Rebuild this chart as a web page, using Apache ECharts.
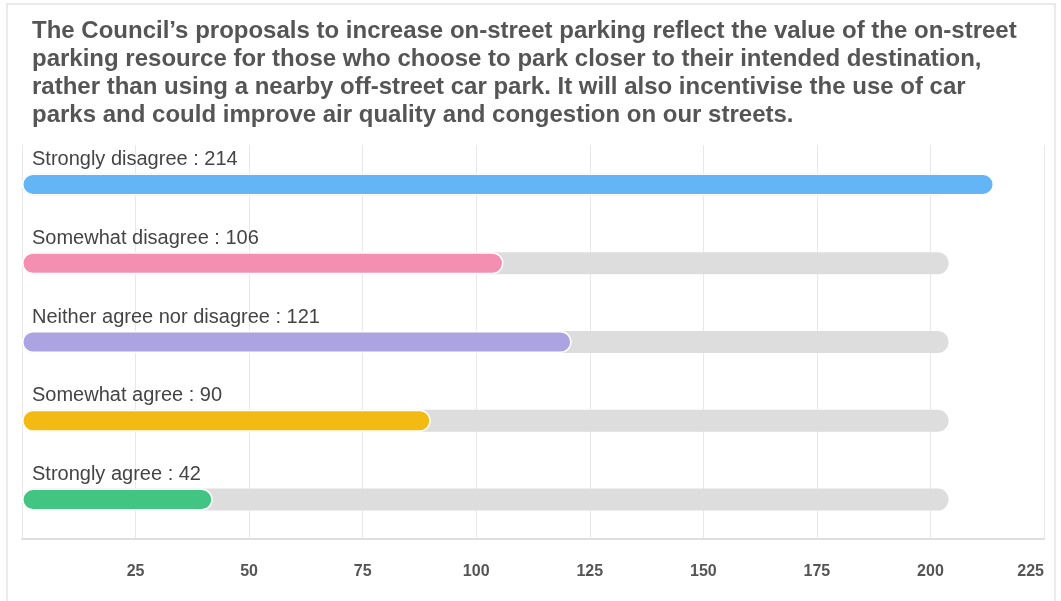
<!DOCTYPE html>
<html>
<head>
<meta charset="utf-8">
<script src="https://cdn.jsdelivr.net/npm/echarts@6/dist/echarts.min.js"></script>
<style>
html,body{margin:0;padding:0;background:#fff;}
#chart1{width:1061px;height:601px;}
</style>
</head>
<body>
<div id="chart1"></div>
<script>
var titleText = "The Council\u2019s proposals to increase on-street parking reflect the value of the on-street\nparking resource for those who choose to park closer to their intended destination,\nrather than using a nearby off-street car park. It will also incentivise the use of car\nparks and could improve air quality and congestion on our streets.";
var categories = ['Strongly disagree','Somewhat disagree','Neither agree nor disagree','Somewhat agree','Strongly agree'];
var values = [214,106,121,90,42];
var trackValues = [204,204,204,204,204];
var barColors = ['#64b5f6','#f48fb1','#aca3e3','#f4ba14','#42c583'];
var tickLabels = [0,25,50,75,100,125,150,175,200,225];

function chart1(){
	var myChart = echarts.init(document.getElementById('chart1'));
	var option = {
		animation: false,
		title: {
			text: titleText,
			left: 27,
			top: 12,
			textStyle: {
				fontFamily: 'Liberation Sans, Arial, sans-serif',
				fontSize: 24,
				fontWeight: 'bold',
				color: '#555',
				lineHeight: 28
			}
		},
		graphic: [{
			type: 'rect',
			shape: {x: 7, y: 4, width: 1048, height: 620},
			style: {fill: 'none', stroke: '#e4e4e4', lineWidth: 1.5},
			silent: true
		}],
		grid: {
			left: 22,
			right: 17,
			top: 145,
			bottom: 62
		},
		xAxis: {
			type: 'value',
			min: tickLabels[0],
			max: tickLabels[tickLabels.length-1],
			interval: 25,
			axisLine: {show: true, lineStyle: {color: '#dedede', width: 2}},
			axisTick: {show: false},
			splitLine: {show: true, lineStyle: {color: '#e8e8e8'}},
			axisLabel: {
				showMinLabel: false,
				alignMaxLabel: 'right',
				margin: 25,
				color: '#555',
				fontSize: 16,
				fontWeight: 'bold',
				fontFamily: 'Liberation Sans, Arial, sans-serif'
			}
		},
		yAxis: {
			type: 'category',
			inverse: true,
			data: categories,
			axisTick: {show: false},
			axisLabel: {show: false},
			axisLine: {show: true, lineStyle: {color: '#e8e8e8'}}
		},
		series: [
			{
				name: 'track',
				type: 'bar',
				barWidth: 22,
				silent: true,
				itemStyle: {color: '#dddddd', borderRadius: 11},
				label: {
					show: true,
					position: [10, -14],
					align: 'left',
					verticalAlign: 'middle',
					color: '#444',
					fontSize: 20,
					fontFamily: 'Liberation Sans, Arial, sans-serif',
					formatter: function(p){
						return categories[p.dataIndex] + ' : ' + values[p.dataIndex];
					}
				},
				data: trackValues
			},
			{
				name: 'value',
				type: 'bar',
				barWidth: 22,
				barGap: '-100%',
				itemStyle: {borderRadius: 11, borderColor: '#fff', borderWidth: 1.5},
				data: values.map(function(v, i){
					return {value: v, itemStyle: {color: barColors[i]}};
				})
			}
		]
	};
	myChart.setOption(option);
	window.addEventListener("resize",function() {
		myChart.resize();
	})
}

chart1();
</script>
</body>
</html>
